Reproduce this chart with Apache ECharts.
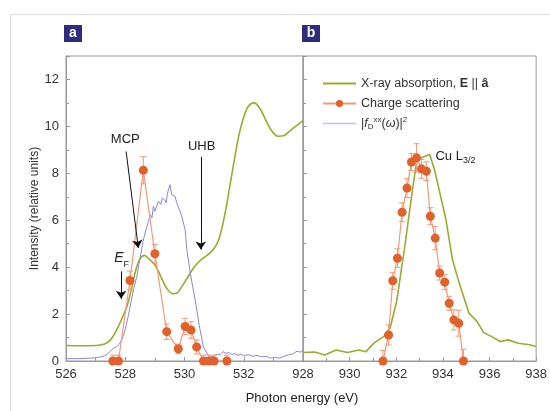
<!DOCTYPE html>
<html>
<head>
<meta charset="utf-8">
<script src="https://cdn.jsdelivr.net/npm/echarts@6/dist/echarts.min.js"></script>
<style>
  html, body { margin: 0; padding: 0; background: #fff; }
  #chart { width: 550px; height: 411px; }
</style>
</head>
<body>
<div id="chart"></div>
<script>
// Panel a: O K edge (526-534 eV)
const xasA = [
  [526.0,0.66],[526.5,0.65],[527.0,0.66],[527.3,0.72],[527.5,0.9],[527.7,1.3],[527.9,1.85],
  [528.05,2.3],[528.2,3.0],[528.35,3.85],[528.5,4.35],[528.65,4.5],[528.8,4.35],[529.0,4.1],
  [529.2,3.6],[529.4,3.1],[529.6,2.87],[529.75,2.9],[529.9,3.15],[530.1,3.55],[530.3,3.95],
  [530.5,4.25],[530.7,4.45],[530.9,4.65],[531.1,5.0],[531.25,5.6],[531.4,6.5],[531.55,7.6],
  [531.7,8.7],[531.85,9.7],[532.0,10.4],[532.15,10.85],[532.35,11.0],[532.55,10.75],
  [532.75,10.25],[532.95,9.8],[533.15,9.58],[533.35,9.6],[533.55,9.8],[533.75,10.0],[534.0,10.25]
];
const fdA = [
  [526.0,0.10],[526.4,0.10],[526.8,0.12],[527.1,0.15],[527.3,0.22],[527.45,0.35],[527.6,0.55],
  [527.7,0.6],[527.8,0.72],[527.9,0.95],[528.0,1.35],[528.1,1.9],[528.2,2.55],[528.3,3.15],
  [528.39,3.6],[528.5,4.4],[528.6,5.1],[528.7,5.6],[528.78,5.95],[528.84,6.24],[528.9,6.1],
  [528.95,6.59],[529.0,6.38],[529.06,6.6],[529.12,6.81],[529.2,6.67],[529.25,6.95],[529.29,7.02],
  [529.34,6.85],[529.38,6.74],[529.42,7.1],[529.46,7.31],[529.51,7.52],[529.57,7.09],[529.62,7.17],
  [529.68,7.02],[529.74,6.74],[529.79,6.81],[529.85,6.38],[529.92,6.1],[529.96,6.03],[530.02,5.6],
  [530.08,4.74],[530.2,3.7],[530.36,2.6],[530.5,1.5],[530.64,0.6],[530.8,0.25],[530.9,0.18],
  [531.0,0.22],[531.1,0.3],[531.2,0.26],[531.3,0.4],[531.4,0.33],[531.5,0.36],[531.6,0.27],
  [531.7,0.32],[531.8,0.24],[531.9,0.3],[532.0,0.22],[532.15,0.27],[532.3,0.2],[532.45,0.24],
  [532.6,0.18],[532.75,0.2],[532.9,0.12],[533.05,0.16],[533.2,0.12],[533.35,0.2],[533.5,0.26],
  [533.65,0.3],[533.8,0.42],[533.9,0.38],[534.0,0.45]
];
const scatEnergyA = [527.58,527.77,528.16,528.61,529.0,529.4,529.79,530.02,530.22,530.41,530.64,530.82,531.0,531.43];
const scatValueA  = [0,0,3.43,8.13,4.57,1.25,0.52,1.47,1.32,0.6,0,0,0,0];
const scatErrA    = [0.25,0.25,0.4,0.58,0.4,0.33,0.2,0.35,0.35,0.3,0.25,0.25,0.25,0.25];

// Panel b: Cu L3 edge (928-938 eV)
const xasB = [
  [928.0,0.36],[928.5,0.38],[928.93,0.26],[929.42,0.47],[929.91,0.36],[930.4,0.47],[930.69,0.39],
  [931.04,0.76],[931.46,1.04],[931.74,1.42],[932.02,2.56],[932.38,4.98],[932.65,6.98],[932.87,8.48],
  [933.08,8.66],[933.43,8.8],[933.64,8.16],[934.13,6.03],[934.41,4.32],[934.7,3.32],[935.12,2.04],
  [935.47,1.68],[935.75,1.21],[936.1,1.04],[936.45,0.83],[936.8,0.9],[937.23,0.76],[937.72,0.69],[938.0,0.62]
];
const scatEnergyB = [931.43,931.67,931.85,932.05,932.25,932.46,932.65,932.87,933.08,933.29,933.46,933.67,933.86,934.08,934.27,934.47,934.68,934.88];
const scatValueB  = [0,1.11,3.42,4.38,6.34,7.37,8.48,8.66,8.19,8.09,6.17,5.24,3.75,3.36,2.46,1.75,1.61,0];
const scatErrB    = [0.45,0.43,0.36,0.4,0.4,0.4,0.36,0.6,0.4,0.4,0.36,0.5,0.3,0.32,0.3,0.43,0.55,0.5];

const xTicksA = [526, 528, 530, 532];
const xTicksB = [928, 930, 932, 934, 936, 938];
const yTicks  = [0, 2, 4, 6, 8, 10, 12];

const NAME_XAS = 'X-ray absorption, E || â';
const NAME_SCAT = 'Charge scattering';
const NAME_FD = '|fD xx(ω)|2';

const FONT = "'Liberation Sans Narrow','Arial Narrow','Liberation Sans',Arial,sans-serif";
const GREEN = '#9aab2e';
const PURPLE = '#8f87d4';
const ORANGE = '#e2602a';
const SALMON = '#f29a78';
const AXIS = '#9a9a9a';

const zip = (xs, ys) => xs.map((x, i) => [x, ys[i]]);
const errData = (xs, ys, es) => xs.map((x, i) => [x, ys[i] - es[i], ys[i] + es[i]]);

function errorBars(xi, data) {
  return {
    type: 'custom', xAxisIndex: xi, yAxisIndex: xi, silent: true, clip: true, z: 3,
    data: data,
    encode: { x: 0, y: [1, 2] },
    renderItem: function (params, api) {
      const lo = api.coord([api.value(0), api.value(1)]);
      const hi = api.coord([api.value(0), api.value(2)]);
      const w = 3;
      const st = { stroke: SALMON, lineWidth: 1 };
      return {
        type: 'group',
        children: [
          { type: 'line', shape: { x1: lo[0], y1: lo[1], x2: hi[0], y2: hi[1] }, style: st },
          { type: 'line', shape: { x1: lo[0] - w, y1: lo[1], x2: lo[0] + w, y2: lo[1] }, style: st },
          { type: 'line', shape: { x1: hi[0] - w, y1: hi[1], x2: hi[0] + w, y2: hi[1] }, style: st }
        ]
      };
    }
  };
}

function xAxisCfg(gi, min, max, labels) {
  return {
    type: 'value', gridIndex: gi, min: min, max: max, interval: 2,
    axisLine: { show: true, lineStyle: { color: AXIS, width: 1 } },
    axisTick: { show: true, inside: true, length: 4, lineStyle: { color: AXIS } },
    minorTick: { show: true, splitNumber: 2, length: 3, lineStyle: { color: AXIS } },
    splitLine: { show: false },
    axisLabel: {
      margin: 7, color: '#333', fontFamily: FONT, fontSize: 13,
      formatter: v => labels.indexOf(v) >= 0 ? String(v) : ''
    }
  };
}
function yAxisCfg(gi, showLabels) {
  return {
    type: 'value', gridIndex: gi, min: 0, max: 13, interval: 2,
    axisLine: { show: true, lineStyle: { color: AXIS, width: 1 } },
    axisTick: { show: true, inside: true, length: 4, lineStyle: { color: AXIS } },
    minorTick: { show: true, splitNumber: 2, length: 3, lineStyle: { color: AXIS } },
    splitLine: { show: false },
    axisLabel: {
      show: showLabels, margin: 7, color: '#333', fontFamily: FONT, fontSize: 13,
      formatter: v => yTicks.indexOf(v) >= 0 ? String(v) : ''
    },
    name: showLabels ? 'Intensity (relative units)' : '',
    nameLocation: 'middle', nameGap: 22, nameRotate: 90,
    nameTextStyle: { color: '#333', fontFamily: FONT, fontSize: 12 }
  };
}

const chart = echarts.init(document.getElementById('chart'), null, { renderer: 'canvas' });

const arrowLines = {
  silent: true, symbol: ['none', 'arrow'], symbolSize: 8,
  lineStyle: { color: '#111', width: 1, type: 'solid' },
  label: { show: false }, emphasis: { disabled: true },
  data: [
    [{ coord: [528.03, 8.93] }, { coord: [528.44, 4.82] }],
    [{ coord: [530.55, 8.7] }, { coord: [530.55, 4.75] }],
    [{ coord: [527.86, 3.82] }, { coord: [527.86, 2.65] }]
  ]
};

const option = {
  animation: false,
  backgroundColor: '#fff',
  grid: [
    { left: 66, top: 56, width: 237, height: 305, show: true, borderColor: AXIS, borderWidth: 1 },
    { left: 303, top: 56, width: 237, height: 305, show: true, borderColor: AXIS, borderWidth: 1 }
  ],
  xAxis: [xAxisCfg(0, 526, 534, xTicksA), xAxisCfg(1, 928, 938, xTicksB)],
  yAxis: [yAxisCfg(0, true), yAxisCfg(1, false)],
  legend: {
    left: 317, top: 71, orient: 'vertical', itemGap: 5, itemWidth: 33, itemHeight: 9,
    data: [
      { name: NAME_XAS, itemStyle: { opacity: 0 } },
      { name: NAME_SCAT },
      { name: NAME_FD, itemStyle: { opacity: 0 }, lineStyle: { color: '#c3bfea', width: 1.5 } }
    ],
    textStyle: {
      color: '#333', fontFamily: FONT, fontSize: 12.5, lineHeight: 15,
      rich: {
        b: { fontFamily: FONT, fontSize: 12.5, fontWeight: 'bold', color: '#333' },
        i: { fontFamily: FONT, fontSize: 12.5, fontStyle: 'italic', color: '#333' },
        sub: { fontFamily: FONT, fontSize: 8, color: '#333', verticalAlign: 'bottom', lineHeight: 15 },
        sup: { fontFamily: FONT, fontSize: 8, color: '#333', verticalAlign: 'top', lineHeight: 15 }
      }
    },
    formatter: function (name) {
      if (name === NAME_XAS) return 'X-ray absorption, {b|E} || {b|â}';
      if (name === NAME_FD) return '|{i|f}{sub|D}{sup|xx}({i|ω})|{sup|2}';
      return name;
    }
  },
  series: [
    {
      name: NAME_XAS, type: 'line', xAxisIndex: 0, yAxisIndex: 0, data: xasA,
      smooth: 0.35, showSymbol: false, symbol: 'none', color: GREEN,
      lineStyle: { color: GREEN, width: 1.6 }, z: 2, markLine: arrowLines
    },
    {
      name: NAME_FD, type: 'line', xAxisIndex: 0, yAxisIndex: 0, data: fdA,
      showSymbol: false, symbol: 'none', color: PURPLE,
      lineStyle: { color: PURPLE, width: 1 }, z: 2
    },
    errorBars(0, errData(scatEnergyA, scatValueA, scatErrA)),
    {
      name: NAME_SCAT, type: 'line', xAxisIndex: 0, yAxisIndex: 0, data: zip(scatEnergyA, scatValueA),
      symbol: 'circle', symbolSize: 9, showAllSymbol: true, color: ORANGE,
      itemStyle: { color: ORANGE }, lineStyle: { color: SALMON, width: 1.2 }, z: 4
    },
    {
      name: NAME_XAS, type: 'line', xAxisIndex: 1, yAxisIndex: 1, data: xasB,
      showSymbol: false, symbol: 'none', color: GREEN,
      lineStyle: { color: GREEN, width: 1.6 }, z: 2
    },
    errorBars(1, errData(scatEnergyB, scatValueB, scatErrB)),
    {
      name: NAME_SCAT, type: 'line', xAxisIndex: 1, yAxisIndex: 1, data: zip(scatEnergyB, scatValueB),
      symbol: 'circle', symbolSize: 9, showAllSymbol: true, color: ORANGE,
      itemStyle: { color: ORANGE }, lineStyle: { color: SALMON, width: 1.2 }, z: 4
    }
  ]
};
chart.setOption(option);

// Annotation texts and panel tags, positioned through the axes
const pA = (e, v) => chart.convertToPixel({ gridIndex: 0 }, [e, v]);
const pB = (e, v) => chart.convertToPixel({ gridIndex: 1 }, [e, v]);
const txt = { fontFamily: FONT, fontSize: 13, fill: '#222' };
const mcp = pA(528.0, 9.45), uhb = pA(530.58, 9.15), ef = pA(527.88, 4.3), cu = pB(933.68, 8.73);

chart.setOption({
  graphic: [
    { type: 'rect', left: 8, top: 12, shape: { width: 600, height: 450 }, silent: true, z: -10,
      style: { fill: 'none', stroke: '#dcdcdc', lineWidth: 1 } },
    { type: 'group', left: 64, top: 25, children: [
      { type: 'rect', shape: { width: 18, height: 17 }, style: { fill: '#2f2c80' } },
      { type: 'text', x: 9, y: 8.5, style: { text: 'a', fill: '#fff', fontFamily: 'Liberation Sans', fontWeight: 'bold', fontSize: 14, align: 'center', verticalAlign: 'middle' } }
    ]},
    { type: 'group', left: 302, top: 25, children: [
      { type: 'rect', shape: { width: 18, height: 17 }, style: { fill: '#2f2c80' } },
      { type: 'text', x: 9, y: 8.5, style: { text: 'b', fill: '#fff', fontFamily: 'Liberation Sans', fontWeight: 'bold', fontSize: 14, align: 'center', verticalAlign: 'middle' } }
    ]},
    { type: 'text', x: mcp[0], y: mcp[1], style: Object.assign({ text: 'MCP', align: 'center', verticalAlign: 'middle' }, txt) },
    { type: 'text', x: uhb[0], y: uhb[1], style: Object.assign({ text: 'UHB', align: 'center', verticalAlign: 'middle' }, txt) },
    { type: 'text', x: ef[0], y: ef[1], style: Object.assign({
        text: '{i|E}{s|F}', align: 'center', verticalAlign: 'middle',
        rich: { i: { fontFamily: FONT, fontSize: 14, fontStyle: 'italic', fill: '#222', lineHeight: 18, verticalAlign: 'top' },
                s: { fontFamily: FONT, fontSize: 9, fill: '#222', lineHeight: 18, verticalAlign: 'bottom' } } }, txt) },
    { type: 'text', x: cu[0], y: cu[1], style: Object.assign({
        text: 'Cu L{s|3/2}', align: 'left', verticalAlign: 'middle',
        rich: { s: { fontFamily: FONT, fontSize: 9, fill: '#222', verticalAlign: 'bottom', lineHeight: 18 } } }, txt) },
    { type: 'text', x: 302, y: 398, style: Object.assign({ text: 'Photon energy (eV)', align: 'center', verticalAlign: 'middle', fontSize: 12.5 }, txt) }
  ]
});
</script>
</body>
</html>
